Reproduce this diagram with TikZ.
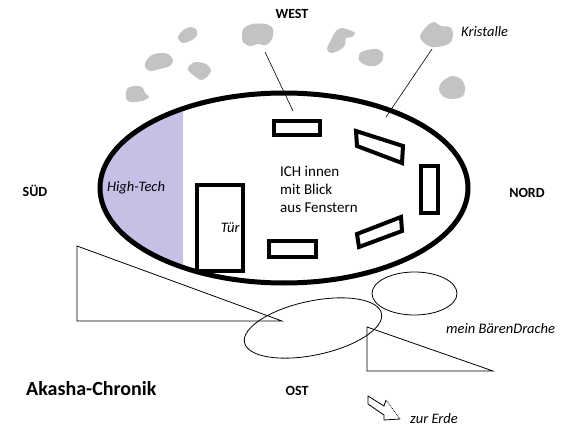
\documentclass[tikz,border=0pt]{standalone}
\usepackage{fontspec}
\setmainfont{Carlito}
\usetikzlibrary{positioning}
\definecolor{CrystalGray}{RGB}{195,195,195}
\definecolor{TechLavender}{RGB}{200,191,231}

\begin{document}
\begin{tikzpicture}[
    x=1pt, y=-1pt,
    % --- Styles ---
    % Style for the compass labels
    compass-label/.style={font=\fontsize{14}{16}\selectfont\bfseries, inner sep=0pt},
    % Style for the italic notes
    note-label/.style={font=\fontsize{14.5}{17}\selectfont\itshape, inner sep=0pt},
    % Style for the thick window frames
    window-frame/.style={draw, line width=4pt, inner sep=0pt, outer sep=0pt},
    % Style for the thin hand-drawn lines
    thin-line/.style={draw, line width=0.8pt, line join=miter},
    % Style for the crystal blobs
    crystal/.style={fill=CrystalGray}
]

\useasboundingbox[fill=white] (0,0) rectangle (587,444);

% --- Crystals ---
\fill[crystal] plot[smooth cycle] coordinates {(178,38) (182,31) (190,27) (196,29) (197,35) (192,40) (183,43)};
\fill[crystal] plot[smooth cycle] coordinates {(244,28) (252,24) (266,24) (273,29) (272,39) (266,45) (258,44) (250,46) (243,42) (242,34)};
\fill[crystal] plot[smooth cycle] coordinates {(146,61) (152,55) (160,53) (168,54) (173,60) (170,66) (160,69) (150,71) (145,67)};
\fill[crystal] plot[smooth cycle] coordinates {(189,66) (195,62) (206,64) (211,70) (208,76) (201,80) (193,75) (188,70)};
\fill[crystal] plot[smooth cycle] coordinates {(127,89) (133,86) (142,87) (145,93) (149,97) (142,101) (130,102) (126,98)};
\fill[crystal] plot[smooth cycle] coordinates {(336,31) (342,28) (349,30) (355,33) (352,37) (346,38) (345,45) (340,50) (331,53) (327,49) (331,40)};
\fill[crystal] plot[smooth cycle] coordinates {(360,53) (367,50) (377,49) (383,53) (382,61) (375,66) (365,65) (359,60)};
\fill[crystal] plot[smooth cycle] coordinates {(422,32) (428,25) (434,22) (441,26) (450,27) (453,33) (451,42) (443,46) (432,47) (424,43) (420,37)};
\fill[crystal] plot[smooth cycle] coordinates {(441,83) (447,78) (453,76) (461,79) (465,87) (463,96) (453,99) (444,97) (439,90)};

% --- Ship body ---
\begin{scope}
    \clip (284,188) ellipse [x radius=184pt, y radius=95pt];
    \fill[TechLavender] (90,90) rectangle (183,290);
\end{scope}
\draw[line width=5pt] (284,188) ellipse [x radius=184pt, y radius=95pt];

% --- Door and windows ---
\node[window-frame, minimum width=45.5pt, minimum height=85.5pt] (door) at (220,228) {};
\node[window-frame, minimum width=46pt, minimum height=14pt] (window-top) at (297,128) {};
\node[window-frame, minimum width=47pt, minimum height=16pt] (window-bottom) at (292.5,249) {};
\node[window-frame, minimum width=17pt, minimum height=47pt] (window-right) at (429.5,189.5) {};
\draw[line width=4pt, line join=miter] (356,131) -- (403,146) -- (402,163) -- (357,146) -- cycle;
\draw[line width=4pt, line join=miter] (357,234) -- (401,217) -- (402,231) -- (359,247) -- cycle;

% --- Pointer lines ---
\coordinate (west-crystal) at (265,52);
\coordinate (west-view) at (293,111);
\coordinate (kristall-crystal) at (432,49);
\coordinate (kristall-view) at (386,117);
\draw[line width=0.6pt] (west-crystal) -- (west-view);
\draw[line width=0.6pt] (kristall-crystal) -- (kristall-view);

% --- Dragon ---
\draw[thin-line] (77,246) -- (77,321) -- (282,321) -- cycle;
\draw[thin-line] (367,327) -- (367,371) -- (493,371) -- cycle;
\draw[thin-line, rotate around={12:(313,328)}] (313,328) ellipse [x radius=70pt, y radius=27pt];
\draw[thin-line] (414.5,293.5) ellipse [x radius=42.5pt, y radius=21.5pt];

% --- Arrow to earth ---
\draw[thin-line] (386,400) -- (384,406) -- (368,396) -- (368,404) -- (384,415) -- (384,420) -- (400,419);
\draw[thin-line, densely dotted] (400,419) -- (386,400);

% --- Labels ---
\node[compass-label] (west-label) at (292,14) {WEST};
\node[compass-label] (sued-label) at (35,191) {SÜD};
\node[compass-label] (nord-label) at (527,193) {NORD};
\node[compass-label] (ost-label) at (297,391) {OST};
\node[note-label, anchor=west] (kristall-label) at (461,32) {Kristalle};
\node[note-label] (hightech-label) at (136,188) {High-Tech};
\node[note-label, left=3pt of door.east] (tuer-label) {Tür};
\node[font=\fontsize{15}{18}\selectfont, align=left, anchor=west, inner sep=0pt] (ich-label) at (280,189) {ICH innen\\mit Blick\\aus Fenstern};
\node[note-label, anchor=west] (drache-label) at (446,329) {mein BärenDrache};
\node[note-label, anchor=west] (erde-label) at (410,419) {zur Erde};
\node[font=\fontsize{20}{24}\selectfont\bfseries, anchor=west, inner sep=0pt] (akasha-label) at (26,389) {Akasha-Chronik};

\end{tikzpicture}
\end{document}
